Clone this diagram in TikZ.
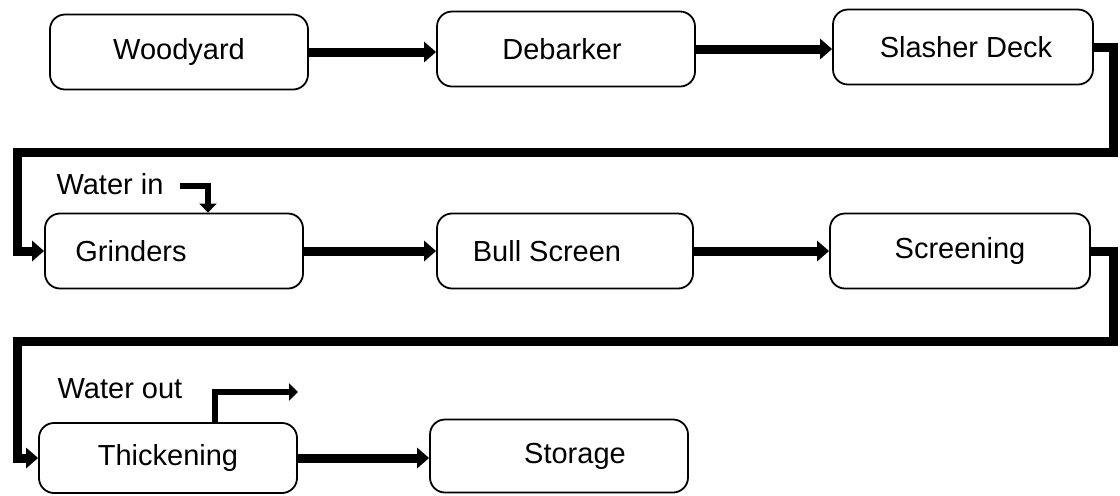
\documentclass[tikz,border=0pt]{standalone}
\usepackage{fontspec}
\setmainfont{Liberation Sans}
\usetikzlibrary{arrows.meta}
\begin{document}
\begin{tikzpicture}[x=0.5pt,y=-0.5pt,
  stage/.style={draw, line width=0.9pt, rounded corners=7.5pt, minimum width=129pt, minimum height=37.5pt, inner sep=0pt, font=\fontsize{14.5}{17}\selectfont},
  flow/.style={line width=4.5pt, line join=miter, -{Triangle[length=6pt,width=10pt]}},
  water/.style={line width=3pt, line join=miter, -{Triangle[length=4.5pt,width=8.5pt]}},
  lbl/.style={inner sep=0pt, font=\fontsize{14.5}{17}\selectfont}]
\useasboundingbox (0,0) rectangle (1120,495);
% row 1
\node[stage] (wood) at (179,52) {Woodyard};
\node[stage] (deb) at (566,49) {Debarker\hspace{4pt}\mbox{}};
\node[stage, minimum width=130pt] (slash) at (963,47) {\hspace{3pt}Slasher Deck};
% row 2
\node[stage] (grind) at (174,251) {Grinders\hspace{43pt}\mbox{}};
\node[stage, minimum width=128pt] (bull) at (565,251) {Bull Screen\hspace{18pt}\mbox{}};
\node[stage, minimum width=130pt] (screen) at (960,251) {Screening};
% row 3
\node[stage, minimum height=35pt] (thick) at (168,458) {Thickening};
\node[stage, minimum height=36.5pt] (store) at (559,456) {\hspace{16pt}Storage};
% water labels
\node[lbl] (win) at (110,184) {Water in};
\node[lbl] (wout) at (120,389) {Water out};
% bend coordinates
\coordinate (r1) at (1113,152);
\coordinate (l1) at (17,152);
\coordinate (r2) at (1113,341);
\coordinate (l2) at (17,341);
\coordinate (winA) at (180,186);
\coordinate (woutA) at (298,392);
% flows
\draw[flow] (wood.east) -- (wood.east -| deb.west);
\draw[flow] (deb.east) -- (deb.east -| slash.west);
\draw[flow] (slash.east) -| (r1) -- (l1) |- (grind.west);
\draw[flow] (grind.east) -- (bull.west);
\draw[flow] (bull.east) -- (screen.west);
\draw[flow] (screen.east) -| (r2) -- (l2) |- (thick.west);
\draw[flow] (thick.east) -- (thick.east -| store.west);
% water
\draw[water] (winA) -| ([xshift=17pt]grind.north);
\draw[water] ([xshift=23.5pt]thick.north) |- (woutA);
\end{tikzpicture}
\end{document}
